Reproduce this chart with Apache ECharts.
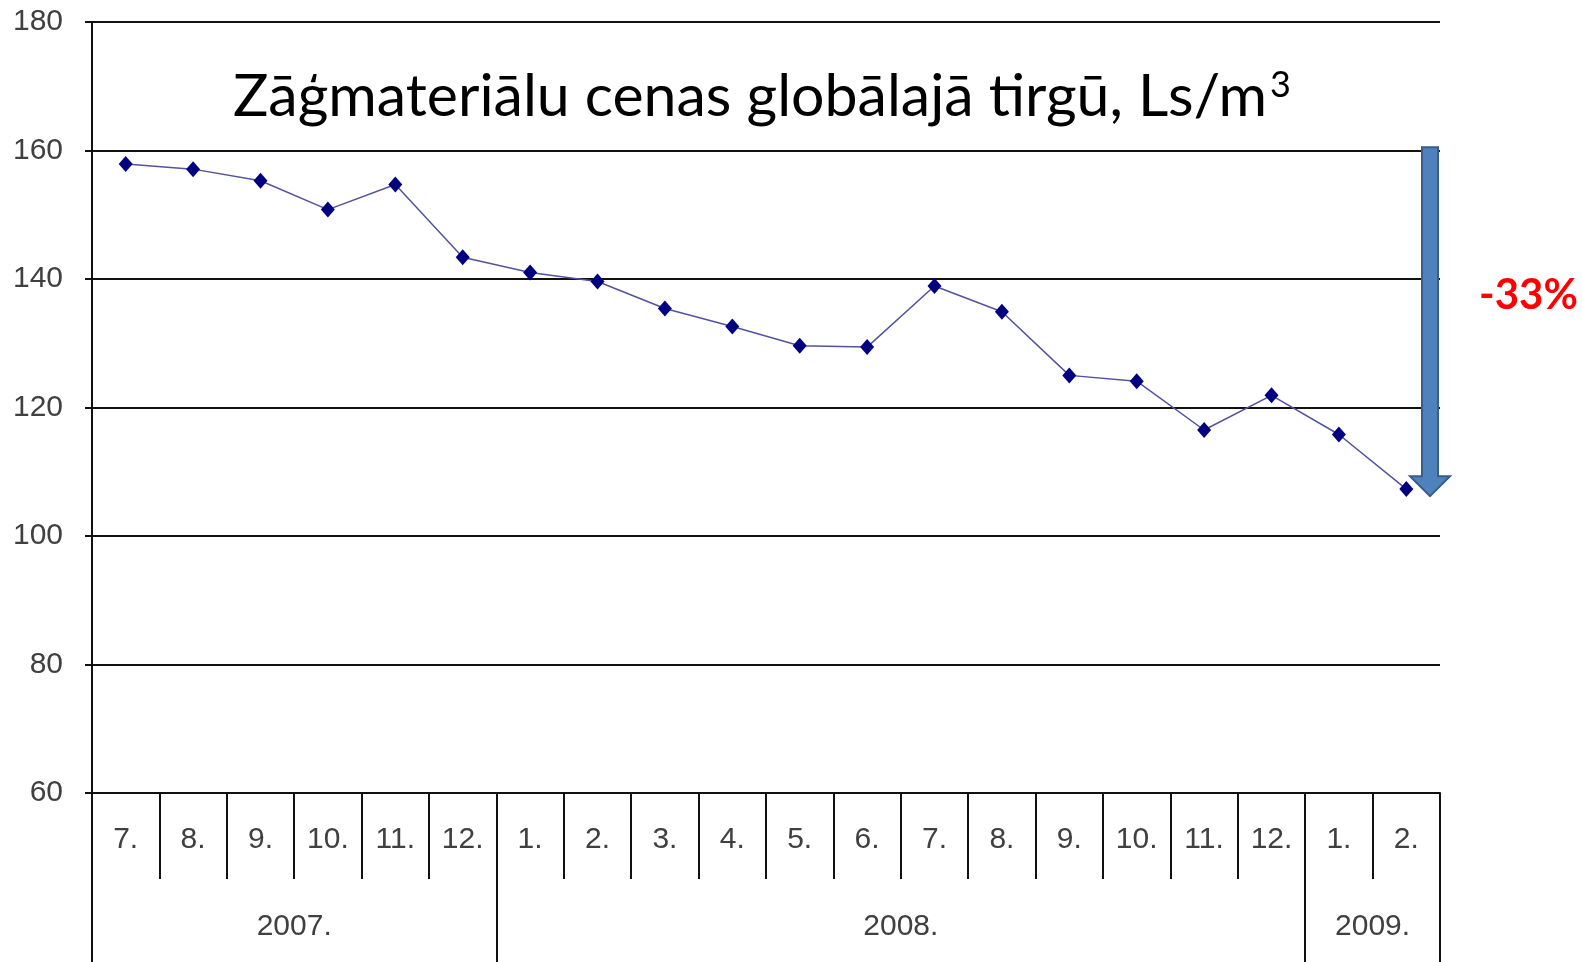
<!DOCTYPE html>
<html lang="lv">
<head>
    <meta charset="UTF-8">
    <title>Zāģmateriālu cenas</title>
    <script src="https://cdn.jsdelivr.net/npm/echarts@6/dist/echarts.min.js"></script>
</head>
<body style="margin:0;background:#fff;">
    <div id="main" style="width:1582px;height:962px;"></div>
    <script type="text/javascript">
        // mēneši (x ass) un gadi (otrā rinda)
        var months = ['7.', '8.', '9.', '10.', '11.', '12.',
                      '1.', '2.', '3.', '4.', '5.', '6.', '7.', '8.', '9.', '10.', '11.', '12.',
                      '1.', '2.'];
        var years = ['2007.', '2008.', '2009.'];
        var yearStarts = [0, 6, 18, 20];   // robežas starp gadiem (mēnešu indeksi)
        // cena, Ls/m3
        var prices = [157.9, 157.1, 155.3, 150.8, 154.7, 143.4,
                      141.0, 139.6, 135.4, 132.6, 129.6, 129.4, 138.9, 134.9, 125.0, 124.1, 116.5, 121.9,
                      115.8, 107.3];
        var arrowFrom = 160.5, arrowTo = 106.2;
        var changeText = '-33%';

        // gadu ass: 21 robežpunkts, nosaukums grupas vidū
        var yearAxisData = [];
        for (var i = 0; i <= months.length; i++) yearAxisData.push('');
        for (var j = 0; j < years.length; j++) {
            yearAxisData[(yearStarts[j] + yearStarts[j + 1]) / 2] = years[j];
        }

        var labelFont = {color: '#404040', fontFamily: 'Liberation Sans', fontSize: 30};
        var myChart = echarts.init(document.getElementById('main'));

        option = {
            backgroundColor: '#fff',
            animation: false,
            title: {
                text: '{t|Zāģmateriālu cenas globālajā tirgū, Ls/m}{s|3}',
                left: 228,
                top: 62,
                textStyle: {
                    fontWeight: 'normal',
                    rich: {
                        t: {fontFamily: 'Lato', fontWeight: 'normal', fontSize: 59, color: '#000', verticalAlign: 'bottom'},
                        s: {fontFamily: 'Lato', fontWeight: 'normal', fontSize: 36, color: '#000', verticalAlign: 'top', padding: [0, 0, 0, 3]}
                    }
                }
            },
            grid: {left: 92, right: 142, top: 22, bottom: 169},
            xAxis: [
                {
                    type: 'category',
                    data: months,
                    position: 'bottom',
                    boundaryGap: true,
                    axisLine: {lineStyle: {color: '#111', width: 2}},
                    axisTick: {show: true, length: 86, lineStyle: {color: '#111', width: 2}},
                    axisLabel: Object.assign({interval: 0, margin: 32}, labelFont)
                },
                {
                    type: 'category',
                    data: yearAxisData,
                    position: 'bottom',
                    offset: 0,
                    boundaryGap: false,
                    axisLine: {show: false},
                    axisTick: {
                        show: true, length: 180,
                        interval: function (idx) { return yearStarts.indexOf(idx) >= 0; },
                        lineStyle: {color: '#111', width: 2}
                    },
                    axisLabel: Object.assign({interval: 0, margin: 119}, labelFont)
                }
            ],
            yAxis: {
                type: 'value',
                min: 60,
                max: 180,
                interval: 20,
                axisLine: {show: true, lineStyle: {color: '#111', width: 2}},
                axisTick: {show: true, length: 7, lineStyle: {color: '#111', width: 2}},
                splitLine: {lineStyle: {color: '#111', width: 2}},
                axisLabel: Object.assign({margin: 29}, labelFont)
            },
            series: [{
                type: 'line',
                data: prices,
                xAxisIndex: 0,
                symbol: 'diamond',
                symbolSize: [14, 16],
                itemStyle: {color: '#000080'},
                lineStyle: {color: '#5252a0', width: 1.5}
            }]
        };
        myChart.setOption(option);

        // bulta un procentu teksts
        var rect = myChart.getModel().getComponent('grid').coordinateSystem.getRect();
        var ax = rect.x + rect.width - 10;
        var yTop = myChart.convertToPixel({yAxisIndex: 0}, arrowFrom);
        var yTip = myChart.convertToPixel({yAxisIndex: 0}, arrowTo);
        var headH = 20, shaftW = 16, headW = 40;
        myChart.setOption({
            graphic: [
                {
                    type: 'polygon',
                    shape: {points: [
                        [ax - shaftW / 2, yTop], [ax + shaftW / 2, yTop],
                        [ax + shaftW / 2, yTip - headH], [ax + headW / 2, yTip - headH],
                        [ax, yTip], [ax - headW / 2, yTip - headH],
                        [ax - shaftW / 2, yTip - headH]
                    ]},
                    style: {fill: '#4F81BD', stroke: '#385D8A', lineWidth: 2},
                    z: 10
                },
                {
                    type: 'text',
                    left: 1479,
                    top: 274,
                    style: {text: changeText, fill: '#ff0000', font: 'bold 42px Lato'},
                    z: 10
                }
            ]
        });
    </script>
</body>
</html>
